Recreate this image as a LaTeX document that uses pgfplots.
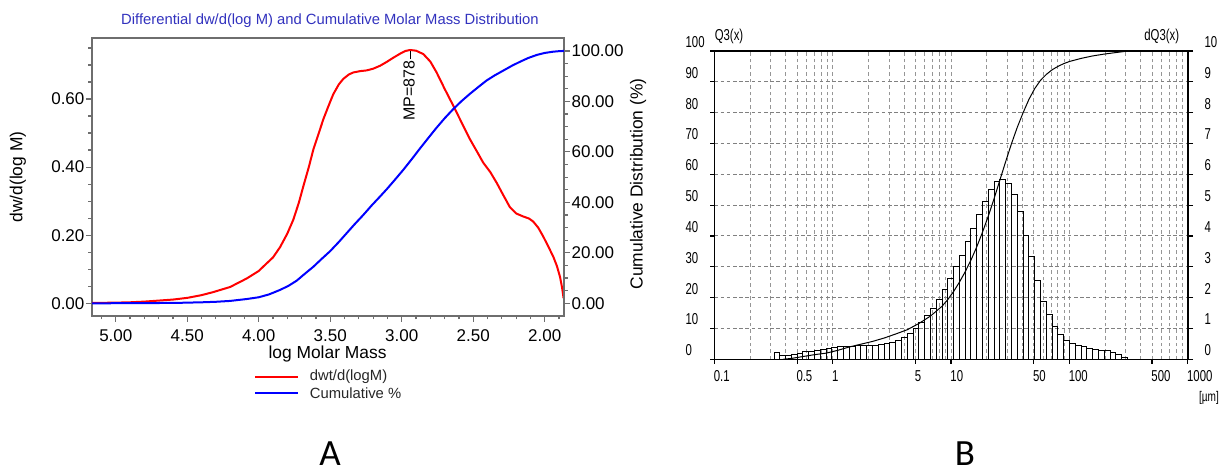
\documentclass[border=0pt]{standalone}
\usepackage{fontspec}
\setmainfont{Liberation Sans}
\newfontfamily\narrow[FakeStretch=0.72]{Liberation Sans}
\newfontfamily\calib{Carlito}
\usepackage{pgfplots}
\pgfplotsset{compat=1.18}
\definecolor{titleblue}{RGB}{50,50,190}
\definecolor{framegray}{RGB}{110,110,110}
\definecolor{gridgray}{RGB}{150,150,150}
\begin{document}
\begin{tikzpicture}
\useasboundingbox (0,0) rectangle (610.5pt,236.5pt);

% ---------- Panel A : left axis (differential) ----------
\begin{axis}[
  at={(46pt,78.65pt)}, anchor=south west,
  scale only axis, width=236pt, height=138.7pt,
  x dir=reverse, xmin=1.865, xmax=5.1665,
  ymin=-0.0364, ymax=0.7783,
  xtick={2,2.5,3,3.5,4,4.5,5},
  minor xtick={1.9,2.1,2.2,2.3,2.4,2.6,2.7,2.8,2.9,3.1,3.2,3.3,3.4,3.6,3.7,3.8,3.9,4.1,4.2,4.3,4.4,4.6,4.7,4.8,4.9,5.1},
  ytick={0,0.2,0.4,0.6},
  minor ytick={0.05,0.1,0.15,0.25,0.3,0.35,0.45,0.5,0.55,0.65,0.7,0.75},
  xtick pos=bottom, ytick pos=left,
  tick align=outside,
  major tick length=3pt, minor tick length=1.8pt,
  axis line style={framegray, line width=0.9pt},
  tick style={framegray, line width=0.6pt},
  ticklabel style={font=\fontsize{8.5}{10}\selectfont, inner sep=0.6pt},
  xticklabel style={yshift=-3pt},
  /pgf/number format/.cd, fixed, fixed zerofill, precision=2, assume math mode=true,
]
\addplot[red, line width=1pt, line join=round] coordinates {
(5.166,0.001) (5.00,0.002) (4.90,0.003) (4.80,0.005) (4.70,0.008) (4.60,0.011)
(4.50,0.016) (4.40,0.024) (4.318,0.033) (4.20,0.048) (4.084,0.073) (4.00,0.095)
(3.968,0.108) (3.90,0.135) (3.851,0.165) (3.80,0.205) (3.758,0.246) (3.72,0.295)
(3.688,0.344) (3.65,0.40) (3.618,0.452) (3.58,0.500) (3.548,0.541) (3.51,0.582)
(3.479,0.614) (3.44,0.643) (3.409,0.659) (3.37,0.672) (3.339,0.678) (3.29,0.682)
(3.245,0.684) (3.20,0.689) (3.15,0.698) (3.105,0.709) (3.06,0.721) (3.012,0.733)
(2.975,0.741) (2.942,0.744) (2.90,0.742) (2.849,0.732) (2.80,0.710) (2.756,0.678)
(2.70,0.630) (2.639,0.580) (2.58,0.530) (2.523,0.482) (2.47,0.443) (2.430,0.413)
(2.38,0.385) (2.336,0.354) (2.29,0.318) (2.243,0.282) (2.20,0.264) (2.150,0.255)
(2.110,0.249) (2.080,0.240) (2.045,0.222) (2.010,0.196) (1.975,0.167) (1.940,0.137)
(1.915,0.110) (1.893,0.078) (1.878,0.045) (1.868,0.015)
};
\end{axis}

% ---------- Panel A : right axis (cumulative) ----------
\begin{axis}[
  at={(46pt,78.65pt)}, anchor=south west,
  scale only axis, width=236pt, height=138.7pt,
  x dir=reverse, xmin=1.865, xmax=5.1665,
  ymin=-4.91, ymax=105.0,
  axis y line*=right, hide x axis,
  ytick={0,20,40,60,80,100},
  minor ytick={5,10,15,25,30,35,45,50,55,65,70,75,85,90,95},
  tick align=outside,
  major tick length=3pt, minor tick length=1.8pt,
  axis line style={framegray, line width=0.9pt},
  tick style={framegray, line width=0.6pt},
  ticklabel style={font=\fontsize{8.5}{10}\selectfont, inner sep=0.6pt},
  /pgf/number format/.cd, fixed, fixed zerofill, precision=2, assume math mode=true,
]
\addplot[blue, line width=1pt, line join=round] coordinates {
(5.166,0.0) (4.90,0.05) (4.70,0.12) (4.55,0.2) (4.40,0.4) (4.30,0.6) (4.20,0.95)
(4.084,1.7) (4.00,2.4) (3.93,3.5) (3.851,5.3) (3.79,7.0) (3.734,9.0) (3.68,11.6)
(3.618,14.5) (3.56,17.6) (3.502,20.6) (3.44,24.3) (3.385,27.8) (3.33,31.3)
(3.269,35.0) (3.21,38.8) (3.152,42.3) (3.105,45.2) (3.05,48.8) (2.989,52.9)
(2.93,57.1) (2.873,61.3) (2.81,65.8) (2.756,69.6) (2.70,73.3) (2.639,77.0)
(2.58,80.2) (2.523,83.0) (2.46,85.9) (2.406,88.3) (2.35,90.3) (2.290,92.2)
(2.23,94.1) (2.173,95.7) (2.115,97.2) (2.056,98.4) (2.00,99.2) (1.940,99.7)
(1.90,99.9) (1.865,100)
};
\end{axis}

% ---------- Panel B : cumulative Q3 (left axis, grid) ----------
\begin{axis}[
  at={(357.2pt,56.85pt)}, anchor=south west,
  scale only axis, width=236.65pt, height=154.15pt,
  xmode=log, xmin=0.1, xmax=1000, ymin=0, ymax=100,
  xtick={0.1,0.5,1,5,10,50,100,500,1000},
  xticklabels={0.1,0.5,1,5,10,50,100,500,1000},
  minor xtick={0.2,0.3,0.4,0.6,0.7,0.8,0.9,2,3,4,6,7,8,9,20,30,40,60,70,80,90,200,300,400,600,700,800,900},
  ytick={0,10,20,30,40,50,60,70,80,90,100},
  xtick pos=bottom, ytick pos=left,
  tick align=outside, major tick length=2.2pt, minor tick length=0pt,
  xmajorgrids, xminorgrids, ymajorgrids,
  major x grid style={gridgray, line width=0.45pt, dash pattern=on 1.8pt off 1.5pt},
  minor x grid style={gridgray, line width=0.45pt, dash pattern=on 1.8pt off 1.5pt},
  major y grid style={gray, line width=0.5pt, dash pattern=on 1.8pt off 1.3pt},
  axis line style={black, line width=0.8pt},
  tick style={black, line width=0.6pt},
  ticklabel style={font=\narrow\fontsize{7.9}{9}\selectfont, inner sep=0pt},
  yticklabel style={anchor=west, xshift=-12.4pt, yshift=4.5pt},
  xticklabel style={anchor=north west, xshift=-0.5pt, yshift=-3.35pt},
  /pgf/number format/assume math mode=true,
]
\addplot[black, line width=0.5pt] coordinates {
(0.38,0) (0.45,0.3) (0.56,0.9) (0.70,1.5) (0.88,2.0) (1.10,2.9) (1.38,4.0)
(1.73,4.9) (2.17,5.8) (2.72,6.9) (3.40,8.2) (4.27,9.6) (5.34,11.6) (6.69,14.0)
(8.39,17.2) (9.39,19.4) (10.51,22.0) (11.76,25.0) (13.17,28.4) (14.74,32.2)
(16.50,36.5) (18.47,41.3) (20.67,46.5) (23.14,52.2) (25.89,58.2) (28.99,64.2)
(32.45,70.0) (36.32,75.3) (40.65,80.0) (45.50,84.3) (50.93,87.8) (57.02,90.5)
(63.81,92.4) (71.43,93.9) (79.95,95.0) (89.5,95.9) (100.2,96.6) (125.5,97.6)
(157.3,98.4) (197,99.0) (247,99.5) (300,99.9)
};
\end{axis}

% ---------- Panel B : dQ3 bars (right axis) ----------
\begin{axis}[
  at={(357.2pt,56.85pt)}, anchor=south west,
  scale only axis, width=236.65pt, height=154.15pt,
  xmode=log, xmin=0.1, xmax=1000, ymin=0, ymax=10,
  axis y line*=right, hide x axis,
  ytick={0,1,2,3,4,5,6,7,8,9,10},
  tick align=outside, major tick length=2.7pt,
  axis line style={black, line width=0.8pt},
  tick style={black, line width=0.6pt},
  ticklabel style={font=\narrow\fontsize{7.9}{9}\selectfont, inner sep=0pt},
  yticklabel style={anchor=west, xshift=5.5pt, yshift=4.5pt},
  /pgf/number format/assume math mode=true,
]
\addplot[ybar interval, draw=black, fill=none, line width=0.5pt] coordinates {
(0.3190,0.22) (0.3571,0.13) (0.3997,0.13) (0.4473,0.17) (0.5007,0.19)
(0.5605,0.24) (0.6274,0.26) (0.7022,0.29) (0.7860,0.32) (0.8798,0.36)
(0.9849,0.38) (1.1024,0.41) (1.2339,0.42) (1.3812,0.43) (1.5460,0.44)
(1.7305,0.45) (1.9371,0.45) (2.1682,0.46) (2.4270,0.47) (2.7164,0.50)
(3.0409,0.54) (3.4041,0.60) (3.8097,0.70) (4.2648,0.84) (4.7734,1.00)
(5.3433,1.20) (5.9812,1.42) (6.6943,1.65) (7.4938,1.95) (8.3872,2.28)
(9.3889,2.63) (10.510,3.00) (11.763,3.38) (13.168,3.82) (14.738,4.25)
(16.498,4.71) (18.468,5.13) (20.668,5.50) (23.137,5.78) (25.893,5.84)
(28.985,5.71) (32.448,5.35) (36.316,4.78) (40.653,4.03) (45.499,3.35)
(50.933,2.55) (57.016,1.88) (63.812,1.45) (71.433,1.07) (79.950,0.80)
(89.500,0.60) (100.18,0.52) (112.13,0.46) (125.52,0.41) (140.49,0.36)
(157.27,0.32) (176.05,0.30) (197.03,0.27) (220.55,0.22) (246.89,0.17)
(276.37,0.07) (309.38,0.07)
};
\end{axis}

% ---------- texts ----------
\begin{scope}[x=0.5pt, y=-0.5pt, shift={(0pt,236.5pt)}]
\node[titleblue, font=\fontsize{7.4}{9}\selectfont] at (330,21) {Differential dw/d(log M) and Cumulative Molar Mass Distribution};
\node[rotate=90, font=\fontsize{8.7}{10}\selectfont] at (18,177) {dw/d(log M)};
\node[rotate=90, font=\fontsize{8.7}{10}\selectfont] at (638,184) {Cumulative Distribution (\%)};
\node[font=\fontsize{8.7}{10}\selectfont] at (327.5,354) {log Molar Mass};
\node[rotate=90, anchor=east, inner sep=0pt, font=\fontsize{8}{9}\selectfont] at (409,60) {MP=878};
\draw[black, line width=0.5pt] (410,51) -- (410,59);
\draw[red, line width=1pt] (255,376.7) -- (298.4,376.7);
\node[anchor=west, inner sep=0pt, font=\fontsize{7.4}{9}\selectfont, text=black!85] at (309.5,376.5) {dwt/d(logM)};
\draw[blue, line width=1pt] (255,393.3) -- (298.4,393.3);
\node[anchor=west, inner sep=0pt, font=\fontsize{7.4}{9}\selectfont, text=black!85] at (309.5,393) {Cumulative \%};
\node[anchor=base, inner sep=0pt, font=\calib\fontsize{18.5}{22}\selectfont] at (330,465) {A};
\node[anchor=base, inner sep=0pt, font=\calib\fontsize{18.5}{22}\selectfont] at (965,465) {B};
\node[anchor=west, inner sep=0pt, font=\narrow\fontsize{7.9}{9}\selectfont] at (714.4,36) {Q3(x)};
\node[anchor=east, inner sep=0pt, font=\narrow\fontsize{7.9}{9}\selectfont] at (1179.5,36) {dQ3(x)};
\node[font=\narrow\fontsize{7}{8}\selectfont] at (1209,397.5) {[µm]};
\end{scope}
\end{tikzpicture}
\end{document}
